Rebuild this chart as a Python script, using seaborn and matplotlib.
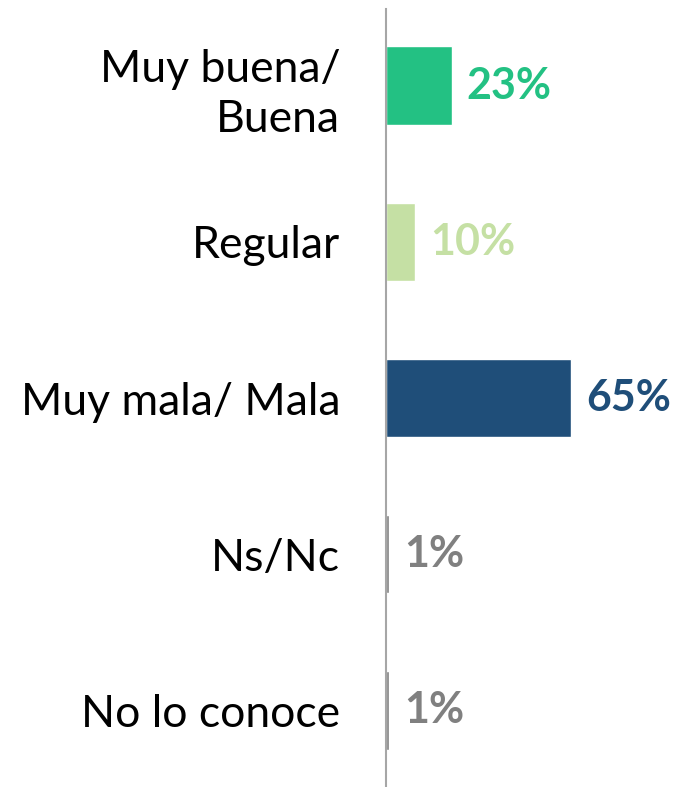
import matplotlib
matplotlib.use("Agg")
import matplotlib.pyplot as plt
import seaborn as sns
import pandas as pd

# data
categorias = ["Muy buena/\nBuena", "Regular", "Muy mala/ Mala", "Ns/Nc", "No lo conoce"]
valores = [23, 10, 65, 1, 1]
colores = ["#23C183", "#C5E0A4", "#1F4E79", "#808080", "#808080"]

sns.set_style("white")
plt.rcParams['font.family'] = ['Lato', 'DejaVu Sans']

df = pd.DataFrame({"cat": categorias, "val": valores})

fig = plt.figure(figsize=(6.81, 7.87), dpi=100)
ax = fig.add_axes([386 / 681, 0.0, 1 - 386 / 681, 1 - 9 / 787])

sns.barplot(data=df, y="cat", x="val", hue="cat", palette=colores,
            orient="h", width=0.5, legend=False, ax=ax, saturation=1)

ax.set_xlim(0, 103.5)
ax.set_ylim(4.49, -0.49)
ax.set_xlabel("")
ax.set_ylabel("")
ax.set_xticks([])
ax.tick_params(axis="y", length=0, pad=33, labelsize=32, labelcolor="black")
for lbl in ax.get_yticklabels():
    lbl.set_horizontalalignment("right")
    lbl.set_linespacing(1.3)

for s in ["top", "right", "bottom"]:
    ax.spines[s].set_visible(False)
ax.spines["left"].set_color("#A6A6A6")
ax.spines["left"].set_linewidth(1.5)

# etiquetas de valor
for cont, col in zip(ax.containers, colores):
    ax.bar_label(cont, labels=[f"{v:.0f}%" for v in cont.datavalues],
                 padding=11, color=col, fontsize=31, fontweight="bold")

fig.savefig("out.png", dpi=100)
